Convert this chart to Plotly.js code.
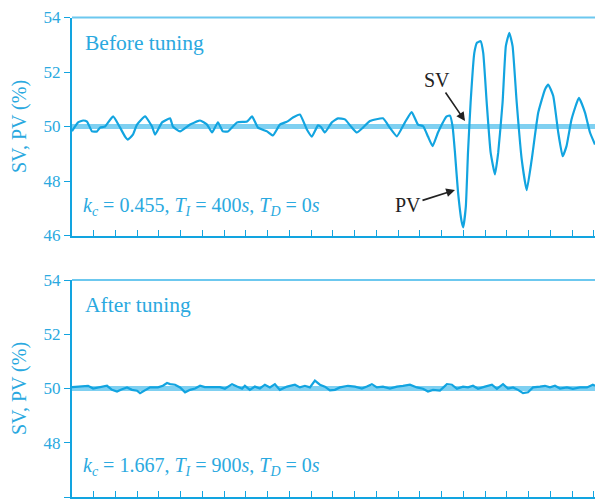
<!DOCTYPE html>
<html>
<head>
<meta charset="utf-8">
<script src="https://cdn.plot.ly/plotly-3.0.1.min.js"></script>
<style>html,body{margin:0;padding:0;background:#fff;}#chart{width:595px;height:501px;}</style>
</head>
<body>
<div id="chart"></div>
<script>
// ---- Data ----
// Time in tick-interval units
const setpointTime = [0, 24.05];
const setpointValue = [50, 50];

const beforeTime = [0,0.28,0.51,0.69,0.92,1.15,1.29,1.52,1.89,2.21,2.44,2.57,2.80,2.99,3.36,3.68,3.82,4.14,4.51,4.64,4.97,5.43,5.89,6.21,6.44,6.71,6.94,7.17,7.59,8.05,8.28,8.55,8.97,9.24,9.56,9.89,10.16,10.48,10.80,11.03,11.31,11.45,11.63,11.95,12.23,12.55,12.87,13.10,13.38,13.70,14.30,14.62,14.94,15.31,15.62,15.91,16.15,16.37,16.58,16.83,17.23,17.38,17.50,17.61,17.75,17.92,17.99,18.11,18.21,18.33,18.50,18.63,18.79,18.91,19.07,19.25,19.45,19.60,19.80,19.95,20.11,20.26,20.45,20.68,20.91,21.14,21.44,21.75,21.90,22.13,22.36,22.56,22.74,22.97,23.31,23.59,23.82,24.05];
const beforePV = [49.83,50.15,50.22,50.18,49.82,49.82,49.96,50.0,50.37,49.96,49.63,49.52,49.7,50.07,50.37,50.0,49.7,50.15,50.3,50.0,49.82,50.07,50.22,50.07,49.78,50.15,49.82,49.82,50.15,50.18,50.37,49.96,49.82,49.67,50.07,50.18,50.33,50.44,49.89,49.63,50.04,49.98,49.78,50.15,50.3,50.26,49.96,49.78,49.96,50.2,50.3,49.95,49.64,50.15,50.53,50.07,50.01,49.63,49.28,49.78,50.37,50.4,50.01,49.05,47.6,46.5,46.3,47.06,49.05,50.88,52.7,53.08,53.13,52.7,50.88,49.05,48.24,49.05,50.88,52.95,53.44,52.95,50.88,48.79,47.66,48.79,50.51,51.36,51.54,51.12,49.78,48.91,49.28,50.26,51.05,50.51,49.78,49.34];

const afterTime = [0,0.37,0.74,0.97,1.29,1.61,1.84,2.07,2.30,2.53,2.76,2.99,3.13,3.36,3.59,3.95,4.18,4.37,4.51,4.74,4.97,5.20,5.43,5.66,5.89,6.11,6.48,6.80,7.03,7.36,7.59,7.82,7.95,8.18,8.41,8.64,8.87,9.10,9.33,9.56,9.89,10.25,10.48,10.71,10.94,11.17,11.40,11.63,11.86,12.09,12.32,12.69,13.01,13.33,13.56,13.79,14.02,14.30,14.62,14.94,15.22,15.54,15.86,16.14,16.37,16.60,16.92,17.24,17.47,17.70,17.98,18.21,18.44,18.67,18.99,19.31,19.54,19.82,20.05,20.28,20.51,20.74,20.97,21.20,21.52,21.75,21.98,22.21,22.44,22.76,23.03,23.36,23.68,23.95,24.05];
const afterPV = [50.05,50.07,50.1,50.0,50.05,50.1,49.95,49.89,49.97,50.04,49.95,49.92,49.83,49.95,50.04,50.04,50.1,50.2,50.16,50.14,50.04,49.86,49.95,50.0,50.1,50.05,50.04,50.05,49.99,50.16,50.07,49.99,50.1,49.95,50.07,50.0,50.14,50.04,50.16,49.95,50.07,50.14,50.04,50.1,50.04,50.29,50.14,50.07,49.93,49.95,50.04,50.1,50.07,50.0,50.07,50.16,50.04,50.07,50.0,50.07,50.1,50.14,50.04,49.99,49.89,49.95,49.92,50.16,50.14,49.99,50.07,50.04,50.1,49.99,50.07,50.14,49.99,50.16,50.0,50.04,49.95,49.83,49.86,50.04,50.07,50.1,50.04,50.1,50.0,50.04,49.99,50.04,50.04,50.14,50.1];

const yTicks = [46, 48, 50, 52, 54];
const panelTitles = ['Before tuning', 'After tuning'];
const paramLabels = [
  '<i>k</i><sub><i>c</i></sub> = 0.455, <i>T</i><sub><i>I</i></sub> = 400<i>s</i>, <i>T</i><sub><i>D</i></sub> = 0<i>s</i>',
  '<i>k</i><sub><i>c</i></sub> = 1.667, <i>T</i><sub><i>I</i></sub> = 900<i>s</i>, <i>T</i><sub><i>D</i></sub> = 0<i>s</i>'
];
const yTitle = 'SV, PV (%)';

// ---- Styles ----
const W = 595, H = 501;
const blue = '#12a4e0';
const svBlue = '#7fd0f1';
const lightBlue = '#6cc8ef';
const labelBlue = '#2aa9e0';
const serif = 'Liberation Serif';
const px = v => v / W;
const py = v => 1 - v / H;

const traces = [
  {x: setpointTime, y: setpointValue, xaxis: 'x', yaxis: 'y', mode: 'lines', line: {color: svBlue, width: 5}, name: 'SV', hoverinfo: 'skip'},
  {x: beforeTime, y: beforePV, xaxis: 'x', yaxis: 'y', mode: 'lines', line: {color: blue, width: 2.2, shape: 'spline', smoothing: 0.4}, name: 'PV'},
  {x: setpointTime, y: setpointValue, xaxis: 'x2', yaxis: 'y2', mode: 'lines', line: {color: svBlue, width: 5}, name: 'SV', hoverinfo: 'skip'},
  {x: afterTime, y: afterPV, xaxis: 'x2', yaxis: 'y2', mode: 'lines', line: {color: blue, width: 2.2}, name: 'PV'}
];

function xAxis(anchor) {
  return {
    domain: [px(72), 1], range: [0, 24.05], anchor: anchor,
    showgrid: false, zeroline: false, showticklabels: false,
    ticks: 'inside', ticklen: 6, tickwidth: 1.3, tickcolor: blue,
    dtick: 1, tick0: 0,
    showline: true, linecolor: blue, linewidth: 2
  };
}
function yAxis(anchor, dom) {
  return {
    domain: dom, range: [46, 54], anchor: anchor,
    tickvals: yTicks,
    ticks: 'outside', ticklen: 6, tickwidth: 1.3, tickcolor: blue,
    showgrid: false, zeroline: false,
    showline: true, linecolor: blue, linewidth: 2,
    tickfont: {family: serif, size: 17, color: labelBlue},
    title: {text: yTitle, font: {family: serif, size: 20, color: labelBlue}, standoff: 12}
  };
}

const topDom = [py(235.5), py(17.5)];
const botDom = [py(497), py(280)];

const layout = {
  width: W, height: H,
  margin: {l: 0, r: 0, t: 0, b: 0},
  font: {family: serif, size: 17},
  paper_bgcolor: '#fff', plot_bgcolor: '#fff',
  showlegend: false,
  xaxis: xAxis('y'), yaxis: yAxis('x', topDom),
  xaxis2: xAxis('y2'), yaxis2: yAxis('x2', botDom),
  shapes: [
    {type: 'line', xref: 'paper', yref: 'paper', x0: px(72), x1: 1, y0: py(17.5), y1: py(17.5), line: {color: lightBlue, width: 2}},
    {type: 'line', xref: 'paper', yref: 'paper', x0: px(72), x1: 1, y0: py(280), y1: py(280), line: {color: lightBlue, width: 2}}
  ],
  annotations: [
    {xref: 'paper', yref: 'paper', x: px(83), y: py(43), xanchor: 'left', yanchor: 'middle', showarrow: false, text: panelTitles[0], font: {family: serif, size: 21.5, color: labelBlue}},
    {xref: 'paper', yref: 'paper', x: px(83), y: py(305), xanchor: 'left', yanchor: 'middle', showarrow: false, text: panelTitles[1], font: {family: serif, size: 21.5, color: labelBlue}},
    {xref: 'paper', yref: 'paper', x: px(81), y: py(206), xanchor: 'left', yanchor: 'middle', showarrow: false, text: paramLabels[0], font: {family: serif, size: 20, color: labelBlue}},
    {xref: 'paper', yref: 'paper', x: px(81), y: py(466), xanchor: 'left', yanchor: 'middle', showarrow: false, text: paramLabels[1], font: {family: serif, size: 20, color: labelBlue}},
    {xref: 'paper', yref: 'paper', x: px(465), y: py(121), axref: 'pixel', ayref: 'pixel', ax: -28, ay: -41, showarrow: true, arrowhead: 2, arrowsize: 1.1, arrowwidth: 1.6, arrowcolor: '#222', standoff: 0, text: 'SV', font: {family: serif, size: 20, color: '#222'}},
    {xref: 'paper', yref: 'paper', x: px(455), y: py(190), axref: 'pixel', ayref: 'pixel', ax: -47, ay: 15, showarrow: true, arrowhead: 2, arrowsize: 1.1, arrowwidth: 1.6, arrowcolor: '#222', standoff: 0, text: 'PV', font: {family: serif, size: 20, color: '#222'}}
  ]
};

Plotly.newPlot('chart', traces, layout, {displayModeBar: false});
</script>
</body>
</html>
